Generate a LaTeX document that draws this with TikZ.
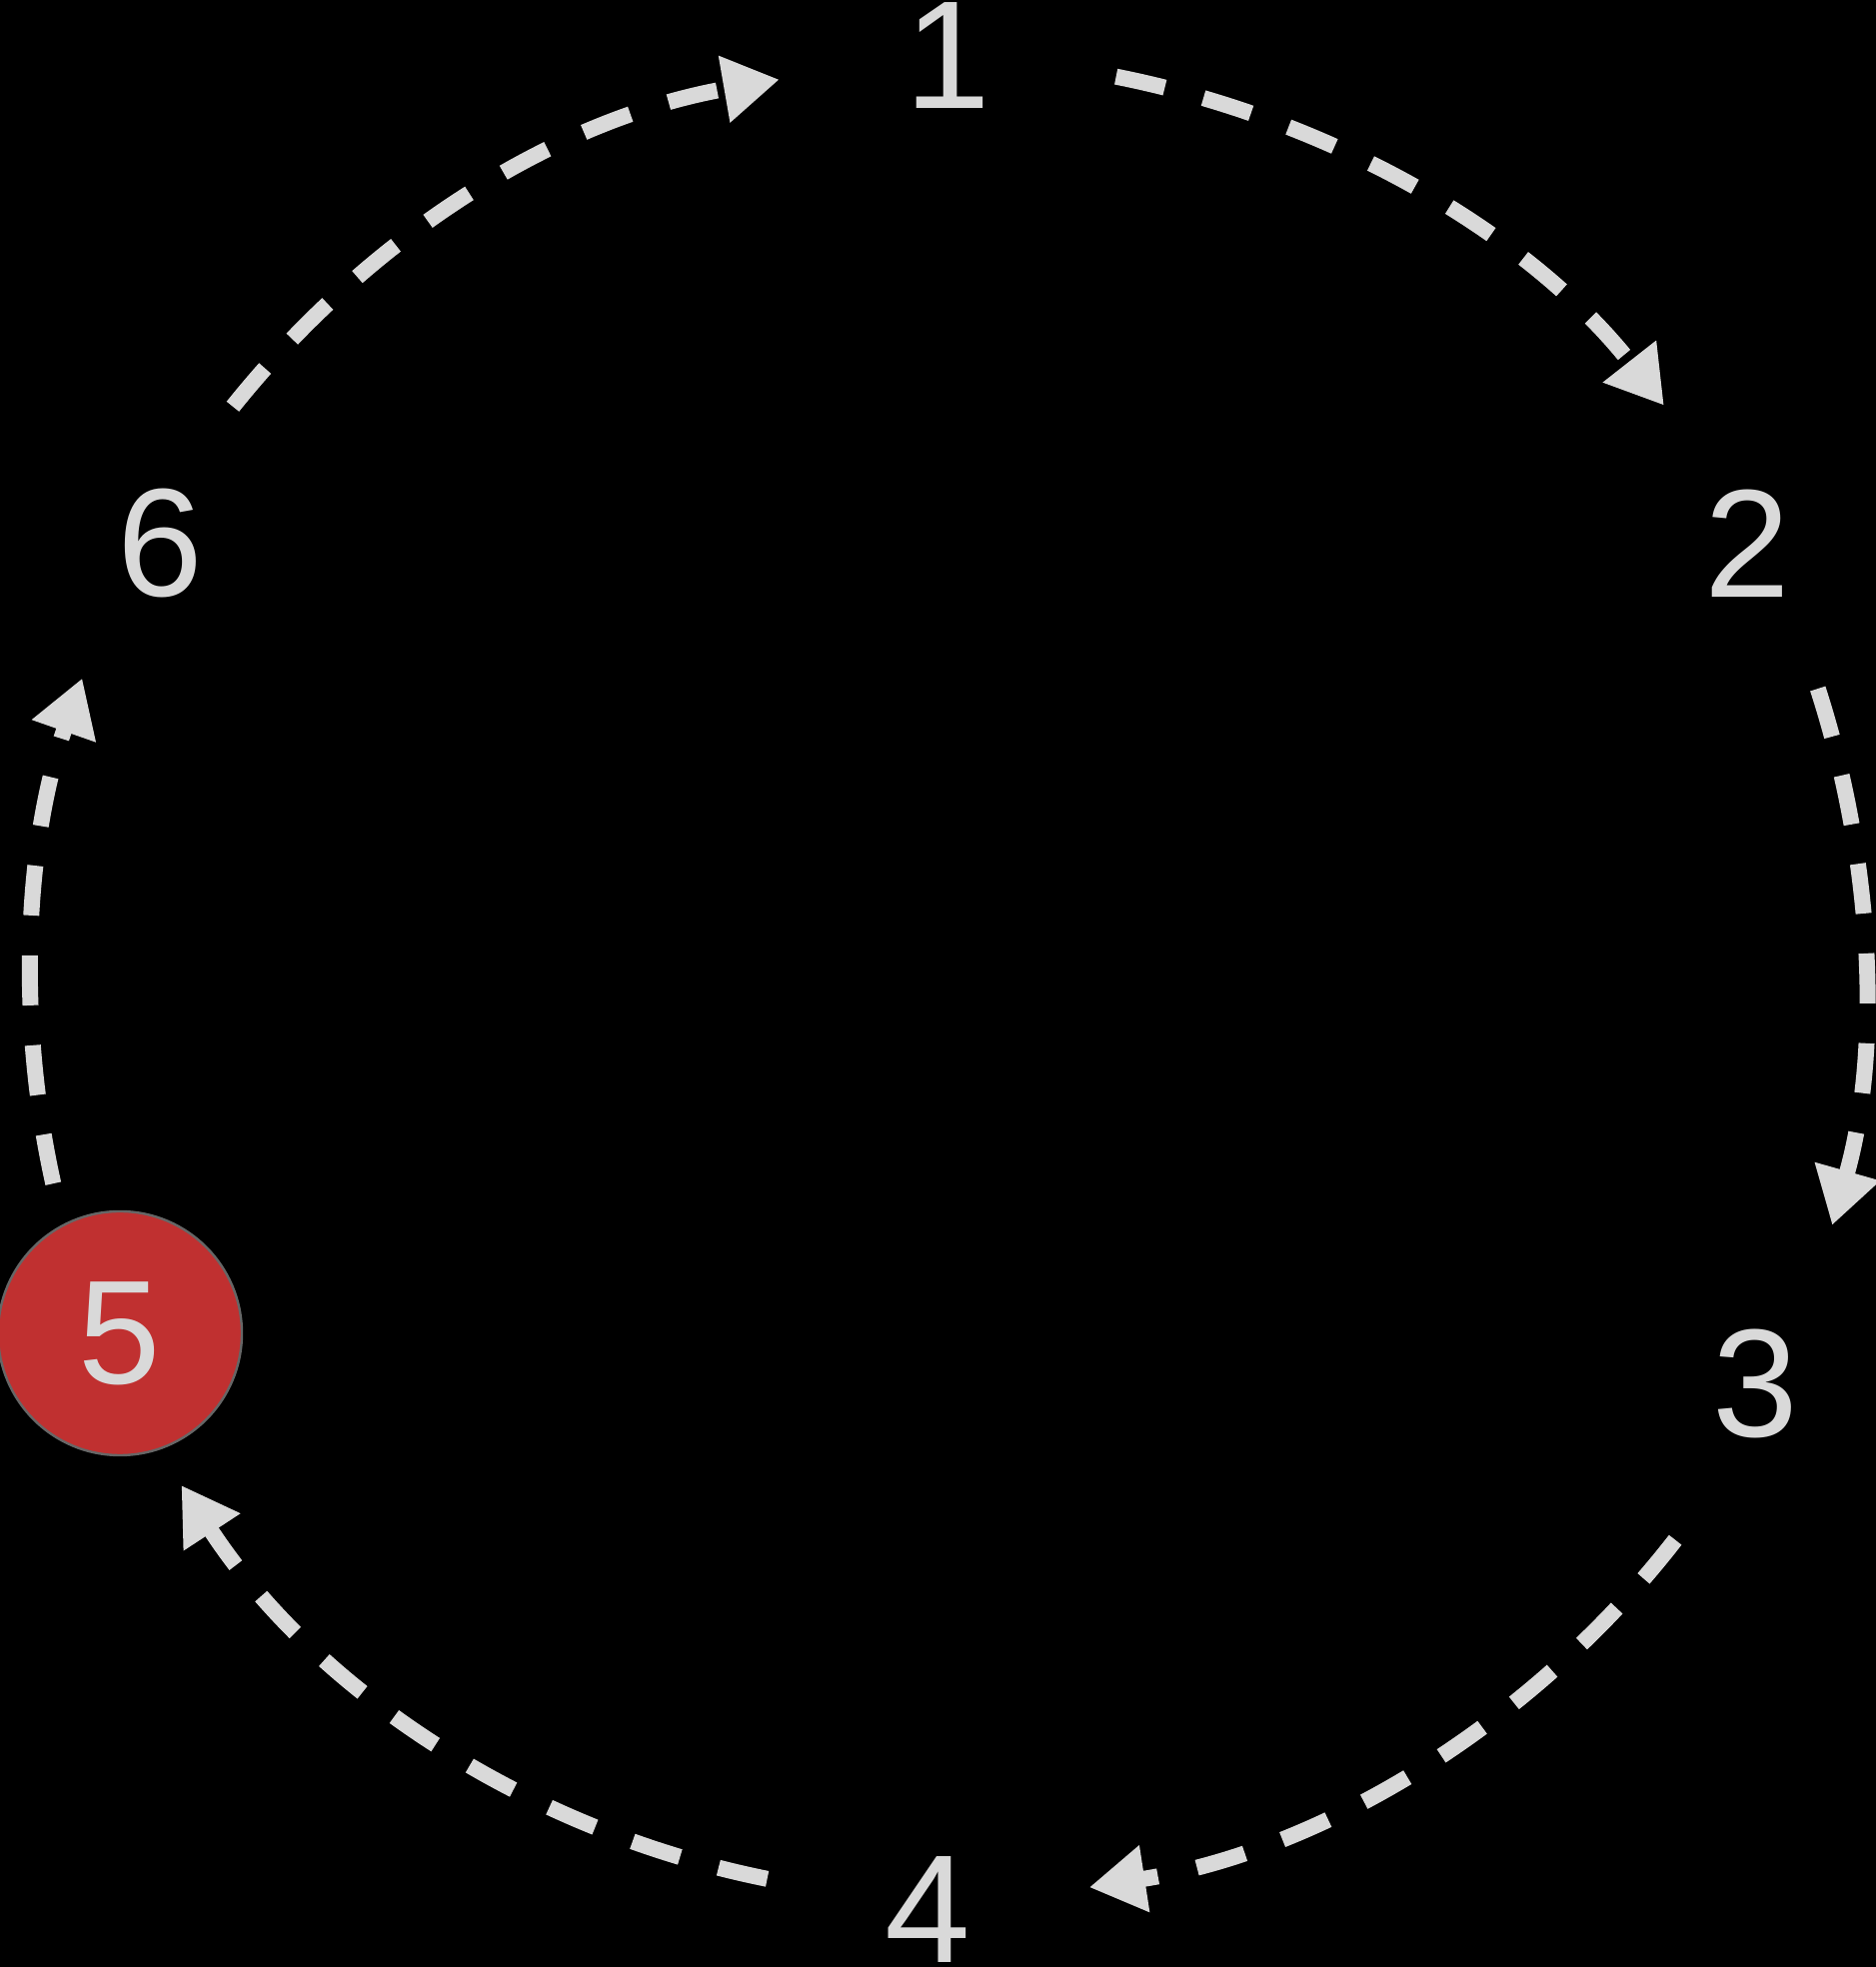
\documentclass[tikz,border=0pt]{standalone}
\usepackage{fontspec}
\setmainfont{Liberation Sans}
\usetikzlibrary{arrows.meta}
\definecolor{fg}{HTML}{D9D9D9}
\definecolor{hot}{HTML}{C03030}
\tikzset{
  lbl/.style={circle, minimum size=165pt, inner sep=0pt, text=fg,
    font=\fontsize{77pt}{80pt}\selectfont},
  hotnode/.style={circle, minimum size=122pt, inner sep=0pt, outer sep=21pt,
    fill=hot, draw=black!60, line width=1.2pt, text=fg,
    font=\fontsize{74pt}{78pt}\selectfont},
  link/.style={draw=fg, line width=8pt, dash pattern=on 25pt off 20pt,
    -{Triangle[length=28pt, width=32pt]}}
}
\begin{document}
\begin{tikzpicture}[x=0.5pt,y=0.5pt]
\fill[black] (0,0) rectangle (1877,1968);
\useasboundingbox (0,0) rectangle (1877,1968);
\node[lbl, minimum size=169.5pt] (n1) at (948,1912) {1};
\node[lbl, minimum size=161pt] (n2) at (1748,1424) {2};
\node[lbl, minimum size=175.5pt] (n3) at (1756,584) {3};
\node[lbl, minimum size=163pt] (n4) at (928,57) {4};
\node[hotnode] (n5) at (120,634) {5};
\node[lbl, minimum size=155pt] (n6) at (160,1424) {6};
\draw[link] (n1.-7.56) to[out=-11.24, in=128.13, distance=109.7pt] (n2.121.06);
\draw[link] (n2.-64.7) to[out=-72.06, in=74.2, distance=90.8pt] (n3.64.24);
\draw[link] (n3.-117.83) to[out=-127.83, in=8.81, distance=117.2pt] (n4.8.48);
\draw[link] (n4.169.14) to[out=168.62, in=-56.77, distance=122.8pt] (n5.-68.39);
\draw[link] (n5.114.16) to[out=102.61, in=-109.28, distance=85.7pt] (n6.-120.89);
\draw[link] (n6.62.86) to[out=51.27, in=-170.14, distance=111.8pt] (n1.-172.94);
\end{tikzpicture}
\end{document}
